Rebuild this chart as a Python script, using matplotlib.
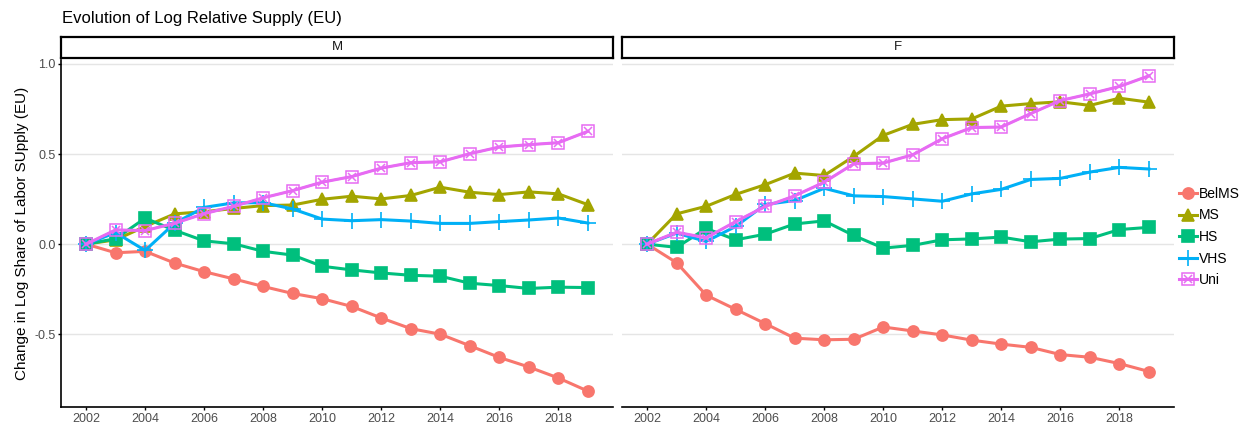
import matplotlib
matplotlib.use("Agg")
import matplotlib.pyplot as plt
from matplotlib.lines import Line2D
from matplotlib.legend_handler import HandlerTuple

plt.rcParams["font.family"] = ["Liberation Sans", "DejaVu Sans"]
plt.rcParams["axes.unicode_minus"] = False

years = list(range(2002, 2020))
panels = ["M", "F"]
groups = ["BelMS", "MS", "HS", "VHS", "Uni"]

# values, one list per group and panel
belms_m = [0, -0.048, -0.04, -0.105, -0.153, -0.193, -0.235, -0.274, -0.303, -0.346,
           -0.41, -0.469, -0.5, -0.564, -0.629, -0.682, -0.743, -0.816]
ms_m = [0, 0.024, 0.098, 0.168, 0.18, 0.198, 0.214, 0.217, 0.249, 0.266,
        0.251, 0.27, 0.316, 0.288, 0.275, 0.29, 0.279, 0.219]
hs_m = [0, 0.03, 0.144, 0.077, 0.018, 0.002, -0.04, -0.061, -0.123, -0.143,
        -0.16, -0.173, -0.178, -0.217, -0.23, -0.246, -0.239, -0.241]
vhs_m = [0, 0.064, -0.035, 0.116, 0.204, 0.229, 0.23, 0.195, 0.139, 0.13,
         0.136, 0.128, 0.115, 0.115, 0.125, 0.134, 0.145, 0.117]
uni_m = [0, 0.079, 0.075, 0.116, 0.169, 0.21, 0.257, 0.297, 0.344, 0.375,
         0.422, 0.452, 0.457, 0.502, 0.539, 0.552, 0.563, 0.626]

belms_f = [0, -0.103, -0.283, -0.362, -0.441, -0.522, -0.531, -0.528, -0.46, -0.482,
           -0.504, -0.533, -0.555, -0.573, -0.613, -0.628, -0.663, -0.707]
ms_f = [0, 0.168, 0.21, 0.276, 0.33, 0.394, 0.381, 0.487, 0.604, 0.665,
        0.691, 0.695, 0.766, 0.78, 0.79, 0.77, 0.81, 0.788]
hs_f = [0, -0.018, 0.087, 0.024, 0.055, 0.112, 0.129, 0.048, -0.022, -0.007,
        0.024, 0.029, 0.039, 0.013, 0.028, 0.031, 0.081, 0.093]
vhs_f = [0, 0.061, 0.015, 0.098, 0.22, 0.242, 0.31, 0.268, 0.264, 0.251,
         0.238, 0.279, 0.304, 0.359, 0.365, 0.4, 0.426, 0.417]
uni_f = [0, 0.066, 0.035, 0.125, 0.209, 0.268, 0.344, 0.446, 0.45, 0.496,
         0.585, 0.647, 0.65, 0.725, 0.797, 0.834, 0.875, 0.934]

data = {
    "M": [belms_m, ms_m, hs_m, vhs_m, uni_m],
    "F": [belms_f, ms_f, hs_f, vhs_f, uni_f],
}

colors = ["#F8766D", "#A3A500", "#00BF7D", "#00B0F6", "#E76BF3"]
markers = ["o", "^", "s", "+", "s"]
msizes = [8, 9, 8, 11, 8]

W, H = 1243, 425
fig = plt.figure(figsize=(W / 100, H / 100), dpi=100)

tick_col = "#4D4D4D"
panel_x = [61, 622]
pw = 552
top, bottom = 60, 407

for i, p in enumerate(panels):
    ax = fig.add_axes([panel_x[i] / W, (H - bottom) / H, pw / W, (bottom - top) / H])
    for j, g in enumerate(groups):
        vals = data[p][j]
        if g == "Uni":
            ax.plot(years, vals, "-", color=colors[j], lw=2.2, marker="s",
                    ms=msizes[j], mfc="none", mew=1.1, zorder=3)
            ax.plot(years, vals, "none", color=colors[j], marker="x",
                    ms=msizes[j] - 2, mew=1.1, zorder=3)
        else:
            ax.plot(years, vals, "-", color=colors[j], lw=2.2, marker=markers[j],
                    ms=msizes[j], mew=1.2, zorder=3)
    ax.set_xlim(2001.15, 2019.85)
    ax.set_ylim(-0.904, 1.022)
    ax.set_xticks(range(2002, 2019, 2))
    ax.set_yticks([-0.5, 0.0, 0.5, 1.0])
    ax.yaxis.grid(True, color="#E5E5E5", lw=1.0)
    ax.set_axisbelow(True)
    for s in ["top", "right"]:
        ax.spines[s].set_visible(False)
    ax.spines["bottom"].set_linewidth(1.2)
    ax.tick_params(axis="x", colors="black", labelcolor=tick_col, labelsize=9,
                   length=2.5, width=1, pad=1.5)
    if i == 0:
        ax.spines["left"].set_linewidth(1.2)
        ax.tick_params(axis="y", colors="black", labelcolor=tick_col, labelsize=9,
                       length=2.5, width=1, pad=1.5)
        ax.set_yticklabels(["-0.5", "0.0", "0.5", "1.0"])
        ax.set_ylabel("Change in Log Share of Labor SUpply (EU)", fontsize=11, labelpad=4)
    else:
        ax.spines["left"].set_visible(False)
        ax.tick_params(axis="y", left=False, labelleft=False)

    sax = fig.add_axes([panel_x[i] / W, (H - 58) / H, pw / W, 21 / H])
    sax.set_xticks([])
    sax.set_yticks([])
    for s in sax.spines.values():
        s.set_linewidth(1.6)
    sax.text(0.5, 0.5, p, ha="center", va="center", fontsize=9.5, color="#1A1A1A",
             transform=sax.transAxes)

fig.text(62 / W, (H - 18) / H, "Evolution of Log Relative Supply (EU)", fontsize=12,
         ha="left", va="center")

handles = []
for j, g in enumerate(groups):
    if g == "Uni":
        h1 = Line2D([], [], color=colors[j], lw=2.2, marker="s", ms=msizes[j],
                    mfc="none", mew=1.1)
        h2 = Line2D([], [], color=colors[j], lw=0, marker="x", ms=msizes[j] - 2, mew=1.1)
        handles.append((h1, h2))
    else:
        handles.append(Line2D([], [], color=colors[j], lw=2.2, marker=markers[j],
                              ms=msizes[j], mew=1.2))

fig.legend(handles, groups, loc="center left", bbox_to_anchor=(1179 / W, (H - 237) / H),
           frameon=False, fontsize=10, handlelength=1.3, handletextpad=0.15,
           labelspacing=0.55, borderaxespad=0, borderpad=0,
           handler_map={tuple: HandlerTuple(ndivide=1)})

fig.savefig("out.png", dpi=100)
